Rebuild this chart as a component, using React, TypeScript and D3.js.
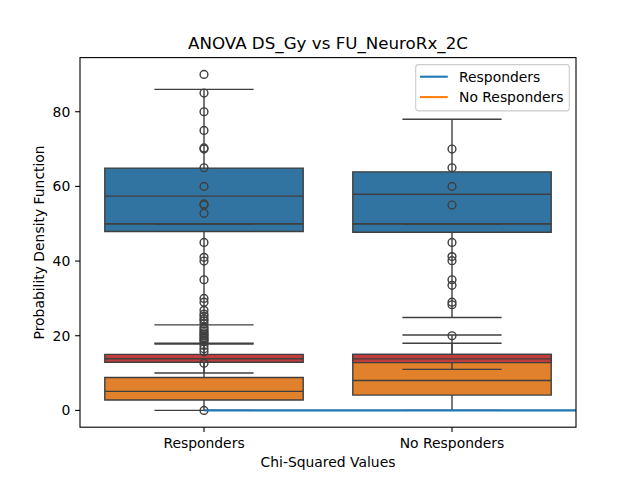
import * as d3 from "d3";

const categories = ["Responders", "No Responders"];
// each row: [lower whisker, q1, median, q3, upper whisker]
const blueStats = [
  [22.9, 47.9, 57.4, 64.9, 86],
  [24.9, 47.7, 57.9, 63.9, 78],
];
const orangeStats = [
  [0, 2.8, 5.1, 8.8, 17.8],
  [0, 4.1, 8.0, 15.0, 20.2],
];
const redStats = [
  [10, 12.9, 13.85, 15.0, 18.0],
  [11, 12.8, 13.8, 15.0, 18.0],
];
const flatStats = [
  [50, 50, 50, 50, 50],
  [50, 50, 50, 50, 50],
];
const responderOutliers = [
  90, 85, 80, 75, 70, 70.3, 65, 60, 55, 55.3, 52.8, 45, 41, 40, 35, 30, 29, 26.8, 25.8, 25.2, 24.5,
  24, 23.2, 22.3, 21.8, 21.3, 20.8, 20.4, 20, 19.6, 19.2, 18.8, 18.4, 17.4, 16.5, 15.7, 12.6, 0,
];
const noResponderOutliers = [70, 65, 60, 55, 45, 41.2, 40.1, 35, 33.5, 29, 28.3, 20];
const outliers = [responderOutliers, noResponderOutliers];
const baselineX = [0, 1, 2];
const baselineY = [0, 0, 0];
const yTicks = [0, 20, 40, 60, 80];
const legendItems = [
  { name: "Responders", color: "#1f77b4" },
  { name: "No Responders", color: "#ff7f0e" },
];

const W = 640;
const H = 480;
const margin = { left: 80, right: 576, top: 57.6, bottom: 427.2 };
const edge = "#3f3f3f";
const font = "DejaVu Sans, sans-serif";

export default function App() {
  const x = d3.scaleLinear().domain([-0.5, 1.5]).range([margin.left, margin.right]);
  const y = d3.scaleLinear().domain([-4.5, 94.5]).range([margin.bottom, margin.top]);
  const boxW = x(0.8) - x(0);
  const capW = boxW / 2;
  const line = d3
    .line<number>()
    .x((_, i) => x(baselineX[i]))
    .y((v) => y(v));

  const layer = (stats: number[][], fill: string, key: string) => (
    <g key={key}>
      {stats.map(([lo, q1, med, q3, hi], i) => {
        const cx = x(i);
        return (
          <g key={i} stroke={edge} strokeWidth={1.4}>
            <line x1={cx} x2={cx} y1={y(q3)} y2={y(hi)} />
            <line x1={cx} x2={cx} y1={y(q1)} y2={y(lo)} />
            <line x1={cx - capW / 2} x2={cx + capW / 2} y1={y(hi)} y2={y(hi)} />
            <line x1={cx - capW / 2} x2={cx + capW / 2} y1={y(lo)} y2={y(lo)} />
            <path d={`M${cx - boxW / 2},${y(q3)}H${cx + boxW / 2}V${y(q1)}H${cx - boxW / 2}Z`} fill={fill} />
            <line x1={cx - boxW / 2} x2={cx + boxW / 2} y1={y(med)} y2={y(med)} />
          </g>
        );
      })}
    </g>
  );

  return (
    <svg width={W} height={H} style={{ position: "absolute", left: 0, top: 0, background: "#fff" }} fontFamily={font}>
      <defs>
        <clipPath id="plot">
          <rect x={margin.left} y={margin.top} width={margin.right - margin.left} height={margin.bottom - margin.top} />
        </clipPath>
      </defs>
      <g clipPath="url(#plot)">
        {layer(blueStats, "#3274a1", "blue")}
        {layer(orangeStats, "#e1812c", "orange")}
        {layer(redStats, "#c03d3e", "red")}
        {outliers.map((vals, i) =>
          vals.map((v, j) => (
            <circle key={`${i}-${j}`} cx={x(i)} cy={y(v)} r={3.9} fill="none" stroke={edge} strokeWidth={1.4} />
          ))
        )}
        {layer(flatStats, "#3a923a", "flat")}
        <path d={line(baselineY) ?? ""} fill="none" stroke="#1f77b4" strokeWidth={2.1} />
      </g>

      <rect x={margin.left} y={margin.top} width={margin.right - margin.left} height={margin.bottom - margin.top} fill="none" stroke="#000" strokeWidth={1.1} />

      {yTicks.map((t) => (
        <g key={t}>
          <line x1={margin.left - 4.9} x2={margin.left} y1={y(t)} y2={y(t)} stroke="#000" strokeWidth={1.1} />
          <text x={margin.left - 9.7} y={y(t)} dy="0.36em" textAnchor="end" fontSize={13.9}>{t}</text>
        </g>
      ))}
      {categories.map((c, i) => (
        <g key={c}>
          <line x1={x(i)} x2={x(i)} y1={margin.bottom} y2={margin.bottom + 4.9} stroke="#000" strokeWidth={1.1} />
          <text x={x(i)} y={447.5} textAnchor="middle" fontSize={13.9}>{c}</text>
        </g>
      ))}

      <text x={(margin.left + margin.right) / 2} y={466.5} textAnchor="middle" fontSize={13.9}>Chi-Squared Values</text>
      <text transform={`translate(43.5, ${(margin.top + margin.bottom) / 2}) rotate(-90)`} textAnchor="middle" fontSize={13.9}>
        Probability Density Function
      </text>
      <text x={(margin.left + margin.right) / 2} y={49.3} textAnchor="middle" fontSize={16.7}>ANOVA DS_Gy vs FU_NeuroRx_2C</text>

      <g>
        <rect x={415.7} y={64.6} width={153.6} height={46.3} rx={2.8} fill="#fff" fillOpacity={0.8} stroke="#cccccc" strokeWidth={1.1} />
        {legendItems.map((item, i) => (
          <g key={item.name} transform={`translate(0, ${76.7 + i * 20.4})`}>
            <line x1={420} x2={447.8} y1={0} y2={0} stroke={item.color} strokeWidth={2.1} />
            <text x={459} y={0} dy="0.36em" fontSize={13.9}>{item.name}</text>
          </g>
        ))}
      </g>
    </svg>
  );
}
